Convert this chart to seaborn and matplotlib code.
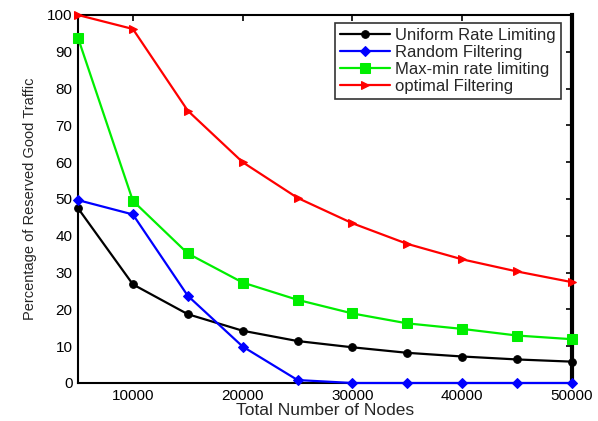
import matplotlib
matplotlib.use("Agg")
import matplotlib.pyplot as plt
import seaborn as sns
import pandas as pd

nodes = [5000, 10000, 15000, 20000, 25000, 30000, 35000, 40000, 45000, 50000]
uniform_rate = [47.5, 26.8, 18.7, 14.2, 11.4, 9.7, 8.2, 7.2, 6.4, 5.8]
random_filter = [49.7, 45.8, 23.7, 9.9, 0.8, 0.0, 0.0, 0.0, 0.0, 0.0]
maxmin_rate = [93.8, 49.5, 35.2, 27.3, 22.6, 18.9, 16.2, 14.7, 12.9, 11.9]
optimal_filter = [100.0, 96.2, 74.0, 60.0, 50.3, 43.4, 37.8, 33.6, 30.3, 27.4]

series_names = ["Uniform Rate Limiting", "Random Filtering",
                "Max-min rate limiting", "optimal Filtering"]
series_values = [uniform_rate, random_filter, maxmin_rate, optimal_filter]
x_ticks = [10000, 20000, 30000, 40000, 50000]
y_ticks = list(range(0, 101, 10))

frames = [pd.DataFrame({"nodes": nodes, "pct": vals, "method": name})
          for name, vals in zip(series_names, series_values)]
df = pd.concat(frames, ignore_index=True)

sns.set_style("white")
plt.rcParams["font.family"] = ["Liberation Sans", "DejaVu Sans"]

colors = {series_names[0]: "#000000", series_names[1]: "#0000ff",
          series_names[2]: "#00ee00", series_names[3]: "#ff0000"}
markers = {series_names[0]: "o", series_names[1]: "D",
           series_names[2]: "s", series_names[3]: ">"}
msizes = {series_names[0]: 5.5, series_names[1]: 5,
          series_names[2]: 6.5, series_names[3]: 6}

fig = plt.figure(figsize=(5.98, 4.21), dpi=100)
ax = fig.add_axes([78 / 598, 38 / 421, 494 / 598, 368 / 421])

for name in series_names:
    sub = df[df["method"] == name]
    sns.lineplot(data=sub, x="nodes", y="pct", ax=ax, color=colors[name],
                 marker=markers[name], markersize=msizes[name],
                 markeredgecolor=colors[name], linewidth=1.6, label=name,
                 clip_on=False, zorder=3)

ax.set_xlim(5000, 50000)
ax.set_ylim(0, 100)
ax.set_xticks(x_ticks)
ax.set_xticklabels([str(t) for t in x_ticks])
ax.set_yticks(y_ticks)
ax.set_yticklabels([str(t) for t in y_ticks])
ax.tick_params(direction="in", length=4, width=1.2, top=True, right=True,
               labelsize=11, colors="black", pad=4)
for side, sp in ax.spines.items():
    sp.set_visible(True)
    sp.set_color("black")
    sp.set_linewidth(1.5)
    sp.set_zorder(2)
ax.spines["right"].set_linewidth(3)

ax.set_xlabel("Total Number of Nodes", fontsize=12.5, labelpad=0)
ax.set_ylabel("Percentage of Reserved Good Traffic", fontsize=10.5, labelpad=7)

leg = ax.legend(loc="upper right", bbox_to_anchor=(0.977, 0.978), fontsize=12,
                frameon=True, fancybox=False, borderpad=0.3, labelspacing=0.12,
                handlelength=3.0, handletextpad=0.3, borderaxespad=0.0)
leg.get_frame().set_edgecolor("black")
leg.get_frame().set_linewidth(1.2)
leg.set_zorder(5)

fig.savefig("out.png", dpi=100)
